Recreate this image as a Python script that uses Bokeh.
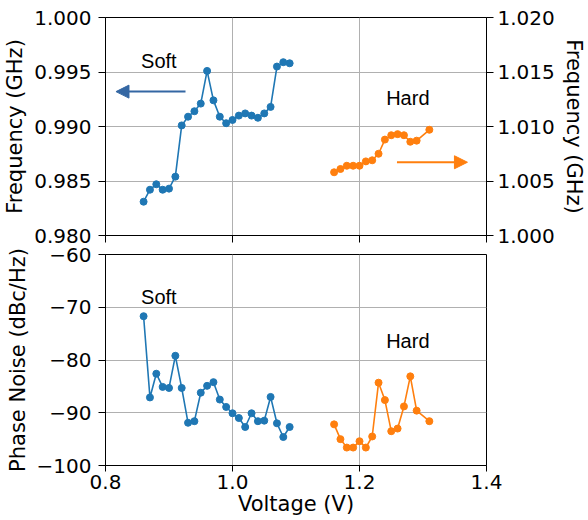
from bokeh.plotting import figure
from bokeh.layouts import column
from bokeh.models import (Range1d, LinearAxis, FixedTicker, CustomJSTickFormatter,
                          Arrow, NormalHead, Label)
from bokeh.embed import file_html
from bokeh.resources import INLINE

# ---------------- data ----------------
v_soft = [0.86, 0.87, 0.88, 0.89, 0.90, 0.91, 0.92, 0.93, 0.94, 0.95, 0.96, 0.97,
          0.98, 0.99, 1.00, 1.01, 1.02, 1.03, 1.04, 1.05, 1.06, 1.07, 1.08, 1.09]
v_hard = [1.16, 1.17, 1.18, 1.19, 1.20, 1.21, 1.22, 1.23, 1.24, 1.25, 1.26, 1.27,
          1.28, 1.29, 1.31]
freq_soft = [0.9831, 0.9842, 0.9847, 0.9842, 0.9843, 0.9854, 0.9901, 0.9909, 0.9914,
             0.9921, 0.9951, 0.9924, 0.9909, 0.9903, 0.9906, 0.9910, 0.9912, 0.9910,
             0.9908, 0.9912, 0.9918, 0.9955, 0.9959, 0.9958]
freq_hard = [1.0058, 1.0061, 1.0064, 1.0064, 1.0064, 1.0068, 1.0069, 1.0075, 1.0088,
             1.0092, 1.0093, 1.0092, 1.0086, 1.0087, 1.0097]
pn_soft = [-71.7, -87.1, -82.6, -85.1, -85.3, -79.2, -85.3, -91.9, -91.6, -86.2,
           -84.9, -84.2, -87.5, -88.9, -90.1, -91.0, -92.7, -90.1, -91.6, -91.5,
           -87.0, -92.0, -94.6, -92.7]
pn_hard = [-92.2, -95.0, -96.6, -96.6, -95.4, -96.6, -94.5, -84.3, -87.6, -93.5,
           -93.0, -88.8, -83.1, -89.6, -91.6]

x_ticks = [0.8, 1.0, 1.2, 1.4]
freq_left_ticks = [0.980, 0.985, 0.990, 0.995, 1.000]
freq_right_ticks = [1.000, 1.005, 1.010, 1.015, 1.020]
pn_ticks = [-100, -90, -80, -70, -60]

BLUE = "#1f77b4"
ORANGE = "#ff7f0e"
ARROW_BLUE = "#3467a3"
TICK_FONT = "DejaVu Sans"
TICK_SIZE = "20px"
LABEL_SIZE = "21px"
ANN_FONT = "Liberation Sans"
ANN_SIZE = "20px"

W = 588
LEFT = 105
RIGHT = 98


def style_axis(ax, fmt_code, ticks):
    ax.ticker = FixedTicker(ticks=ticks)
    ax.formatter = CustomJSTickFormatter(code=fmt_code)
    ax.major_label_text_font = TICK_FONT
    ax.major_label_text_font_size = TICK_SIZE
    ax.major_label_text_color = "black"
    ax.axis_label_text_font = TICK_FONT
    ax.axis_label_text_font_size = LABEL_SIZE
    ax.axis_label_text_font_style = "normal"
    ax.axis_label_text_color = "black"
    ax.axis_line_color = "black"
    ax.major_tick_line_color = "black"
    ax.major_tick_out = 7
    ax.major_tick_in = 0
    ax.minor_tick_line_color = None
    ax.major_label_standoff = 7
    ax.axis_label_standoff = 4


def style_fig(p):
    p.outline_line_color = "black"
    p.outline_line_alpha = 1.0
    p.outline_line_width = 1
    p.grid.grid_line_color = "#b0b0b0"
    p.grid.grid_line_width = 1
    p.background_fill_color = "white"
    p.border_fill_color = "white"


def note(p, x, y, text):
    p.add_layout(Label(x=x, y=y, text=text, text_font=ANN_FONT,
                       text_font_size=ANN_SIZE, text_baseline="middle",
                       text_color="black"))


x_fmt = "return tick.toFixed(1);"
f_fmt = "return tick.toFixed(3);"
pn_fmt = "return (tick < 0 ? '\\u2212' : '') + Math.abs(tick).toFixed(0);"

# ---------------- top: frequency ----------------
p1 = figure(width=W, height=245, output_backend="svg", toolbar_location=None,
            x_range=Range1d(0.8, 1.4), y_range=Range1d(0.980, 1.000),
            min_border_left=LEFT, min_border_right=RIGHT, min_border_top=17,
            min_border_bottom=10)
p1.extra_y_ranges = {"right": Range1d(1.000, 1.020)}
style_fig(p1)
style_axis(p1.xaxis[0], "return '';", x_ticks)
p1.xaxis[0].major_label_standoff = 0
style_axis(p1.yaxis[0], f_fmt, freq_left_ticks)
p1.yaxis[0].axis_label = "Frequency (GHz)"
p1.xgrid.ticker = FixedTicker(ticks=x_ticks)
p1.ygrid.ticker = FixedTicker(ticks=freq_left_ticks)

ax_r = LinearAxis(y_range_name="right", axis_label="Frequency (GHz)")
style_axis(ax_r, f_fmt, freq_right_ticks)
ax_r.major_label_standoff = 4
p1.add_layout(ax_r, "right")

p1.line(v_soft, freq_soft, color=BLUE, line_width=1.6)
p1.scatter(v_soft, freq_soft, color=BLUE, size=7)
p1.line(v_hard, freq_hard, color=ORANGE, line_width=1.6, y_range_name="right")
p1.scatter(v_hard, freq_hard, color=ORANGE, size=7, y_range_name="right")

p1.add_layout(Arrow(end=NormalHead(size=13, fill_color=ARROW_BLUE, line_color=ARROW_BLUE),
                    x_start=0.926, y_start=0.9932, x_end=0.8165, y_end=0.9932,
                    line_color=ARROW_BLUE, line_width=2))
p1.add_layout(Arrow(end=NormalHead(size=13, fill_color=ORANGE, line_color=ORANGE),
                    x_start=1.259, y_start=1.00672, x_end=1.370, y_end=1.00672,
                    line_color=ORANGE, line_width=2, y_range_name="right"))
note(p1, 0.856, 0.99603, "Soft")
note(p1, 1.242, 0.99259, "Hard")

# ---------------- bottom: phase noise ----------------
p2 = figure(width=W, height=275, output_backend="svg", toolbar_location=None,
            x_range=p1.x_range, y_range=Range1d(-100, -60),
            min_border_left=LEFT, min_border_right=RIGHT, min_border_top=9,
            min_border_bottom=55)
style_fig(p2)
style_axis(p2.xaxis[0], x_fmt, x_ticks)
p2.xaxis[0].axis_label = "Voltage (V)"
p2.xaxis[0].major_tick_out = 6
p2.xaxis[0].major_label_standoff = 3
p2.xaxis[0].axis_label_standoff = 0
style_axis(p2.yaxis[0], pn_fmt, pn_ticks)
p2.yaxis[0].axis_label = "Phase Noise (dBc/Hz)"
p2.xgrid.ticker = FixedTicker(ticks=x_ticks)
p2.ygrid.ticker = FixedTicker(ticks=pn_ticks)

p2.line(v_soft, pn_soft, color=BLUE, line_width=1.6)
p2.scatter(v_soft, pn_soft, color=BLUE, size=7)
p2.line(v_hard, pn_hard, color=ORANGE, line_width=1.6)
p2.scatter(v_hard, pn_hard, color=ORANGE, size=7)

note(p2, 0.856, -68.11, "Soft")
note(p2, 1.242, -76.45, "Hard")

layout = column(p1, p2, spacing=0)
open("out.html", "w").write(file_html(layout, INLINE))
